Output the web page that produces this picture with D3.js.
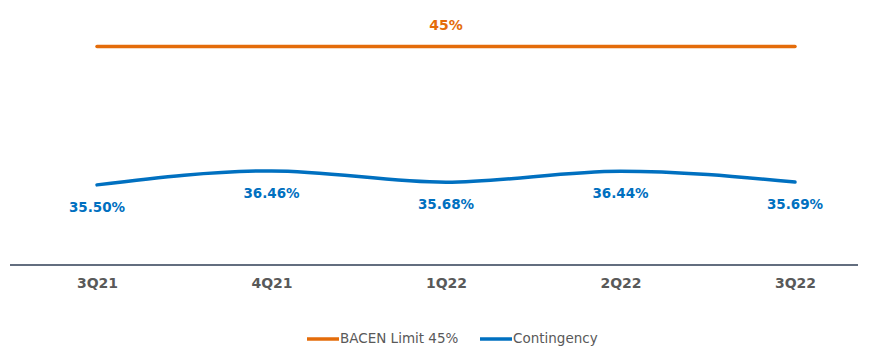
<!DOCTYPE html>
<html>
<head>
<meta charset="utf-8">
<script src="https://cdn.jsdelivr.net/npm/d3@7"></script>
<style>
  html, body { margin: 0; padding: 0; background: #fff; }
  svg { display: block; font-family: "DejaVu Sans", sans-serif; }
</style>
</head>
<body>
<svg id="chart" width="872" height="347"></svg>
<script>
// Quarters on the x axis
const quarters = ["3Q21", "4Q21", "1Q22", "2Q22", "3Q22"];
// Regulatory ceiling (flat)
const bacenLimit = [45, 45, 45, 45, 45];
// Contingency ratio per quarter (%)
const contingency = [35.50, 36.46, 35.68, 36.44, 35.69];
// Legend entries
const legendLabels = ["BACEN Limit 45%", "Contingency"];

const orange = "#E46C0A";
const blue = "#0070C0";
const gray = "#595959";

const svg = d3.select("#chart");

const x = d3.scalePoint().domain(quarters).range([97, 795]);
const y = d3.scaleLinear().domain([30, 45]).range([265, 46.5]);

// baseline axis
const axis = d3.axisBottom(x).tickSize(0).tickPadding(13);
const gAxis = svg.append("g").attr("transform", "translate(0,265)").call(axis);
gAxis.select(".domain").remove();
gAxis.append("line").attr("x1", 10).attr("x2", 858).attr("y1", 0).attr("y2", 0)
  .attr("stroke", "#2F3E55").attr("stroke-width", 1.3);
gAxis.selectAll(".tick text")
  .attr("fill", gray).attr("font-size", 14).attr("font-weight", 600)
  .style("font-family", "DejaVu Sans, sans-serif");

const line = d3.line().x((d, i) => x(quarters[i])).y(d => y(d)).curve(d3.curveMonotoneX);

svg.append("path").datum(bacenLimit).attr("d", line)
  .attr("fill", "none").attr("stroke", orange).attr("stroke-width", 3.5).attr("stroke-linecap", "round");
svg.append("path").datum(contingency).attr("d", line)
  .attr("fill", "none").attr("stroke", blue).attr("stroke-width", 3.5).attr("stroke-linecap", "round");

// limit label above the middle point
svg.append("text")
  .attr("x", x(quarters[2])).attr("y", y(bacenLimit[2]) - 17)
  .attr("text-anchor", "middle").attr("fill", orange)
  .attr("font-size", 14).attr("font-weight", "bold")
  .text(bacenLimit[2] + "%");

// contingency value labels below each point
svg.selectAll(".vlab").data(contingency).enter().append("text")
  .attr("class", "vlab")
  .attr("x", (d, i) => x(quarters[i]))
  .attr("y", d => y(d) + 27)
  .attr("text-anchor", "middle").attr("fill", blue)
  .attr("font-size", 13.5).attr("font-weight", "bold")
  .text(d => d.toFixed(2) + "%");

// legend
const legend = [
  { label: legendLabels[0], color: orange, x0: 307 },
  { label: legendLabels[1], color: blue, x0: 480 }
];
const lg = svg.selectAll(".lg").data(legend).enter().append("g").attr("class", "lg");
lg.append("line")
  .attr("x1", d => d.x0).attr("x2", d => d.x0 + 32)
  .attr("y1", 339).attr("y2", 339)
  .attr("stroke", d => d.color).attr("stroke-width", 3.5);
lg.append("text")
  .attr("x", d => d.x0 + 33).attr("y", 343)
  .attr("fill", gray).attr("font-size", 13.5)
  .text(d => d.label);
</script>
</body>
</html>
